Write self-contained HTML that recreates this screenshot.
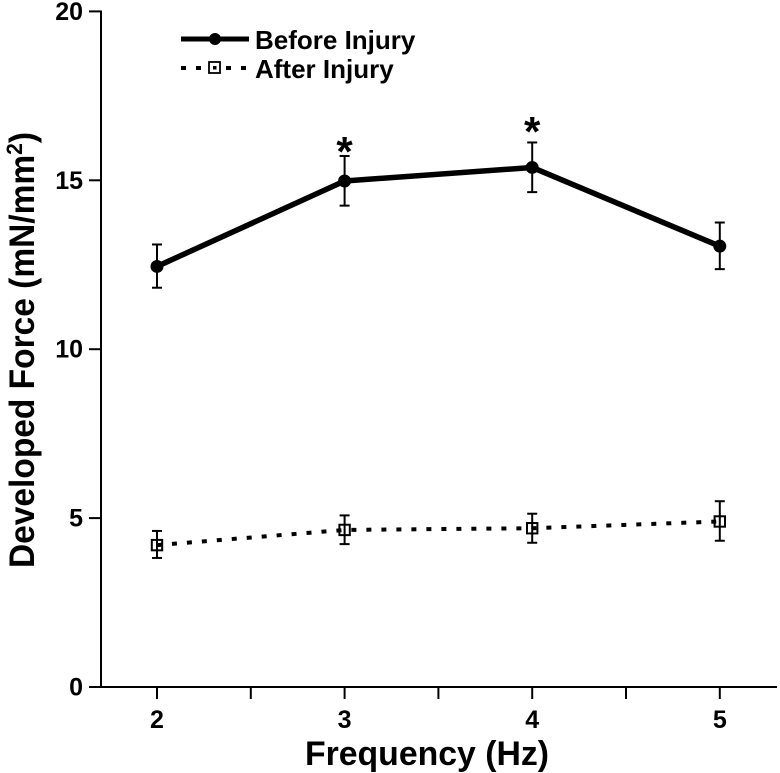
<!DOCTYPE html>
<html>
<head>
<meta charset="utf-8">
<style>
html,body{margin:0;padding:0;background:#fff;width:780px;height:773px;overflow:hidden}
svg{display:block}
text{font-family:"Liberation Sans",sans-serif;font-weight:700;fill:#000}
</style>
</head>
<body>
<svg id="chart" width="780" height="773" viewBox="0 0 780 773"></svg>
<script>
const frequencies = [2, 3, 4, 5];
const beforeValues = [12.45, 14.98, 15.38, 13.05];
const beforeUpper = [13.1, 15.72, 16.12, 13.75];
const beforeLower = [11.82, 14.25, 14.65, 12.37];
const afterValues = [4.2, 4.65, 4.7, 4.9];
const afterUpper = [4.62, 5.08, 5.13, 5.5];
const afterLower = [3.82, 4.23, 4.27, 4.33];
const yTicks = [0, 5, 10, 15, 20];
const xMajorTicks = [2, 3, 4, 5];
const xMinorTicks = [2.5, 3.5, 4.5];
const significant = [3, 4];
const starLevels = [15.42, 16.02];

const svg = document.getElementById('chart');
const NS = 'http://www.w3.org/2000/svg';
function xScale(v){ return 157 + (v - 2) * 187.6; }
function yScale(v){ return 687 - v * 33.78; }
function make(tag, attrs, parent){
  const el = document.createElementNS(NS, tag);
  for (const k in attrs) el.setAttribute(k, attrs[k]);
  (parent || svg).appendChild(el);
  return el;
}
function line(x1, y1, x2, y2, w, parent){
  return make('line', {x1, y1, x2, y2, stroke:'#000', 'stroke-width':w}, parent);
}

/* axes */
const yAxis = line(101, 10.5, 101, 688, 2);


const xAxis = line(89, 687, 777, 687, 2);



yTicks.forEach(function(t){
  const y = yScale(t);
  const tick = line(89, y, 101, y, 2);
  
  
  const lab = make('text', {x:83, y:y + 8.5, 'text-anchor':'end', 'font-size':25});
  lab.textContent = t;
  
  
});
xMajorTicks.forEach(function(t){
  const x = xScale(t);
  const tick = line(x, 687, x, 699, 2);
  
  
  const lab = make('text', {x:x, y:728, 'text-anchor':'middle', 'font-size':25});
  lab.textContent = t;
  
  
});
xMinorTicks.forEach(function(t){
  const x = xScale(t);
  const tick = line(x, 687, x, 699, 2);
  
  
});

/* error bars */
function errorBars(values, upper, lower, name){
  frequencies.forEach(function(f, i){
    const x = xScale(f);
    const g = make('g', {});
    
    
    line(x, yScale(upper[i]), x, yScale(lower[i]), 2, g);
    line(x - 5, yScale(upper[i]), x + 5, yScale(upper[i]), 2, g);
    line(x - 5, yScale(lower[i]), x + 5, yScale(lower[i]), 2, g);
  });
}
errorBars(afterValues, afterUpper, afterLower, 'after-injury-error-bar');
errorBars(beforeValues, beforeUpper, beforeLower, 'before-injury-error-bar');

/* series lines */
function pointsOf(values){
  return frequencies.map(function(f, i){ return xScale(f) + ',' + yScale(values[i]); }).join(' ');
}
const beforeLine = make('polyline', {points:pointsOf(beforeValues), fill:'none', stroke:'#000', 'stroke-width':5.5, 'stroke-linejoin':'round'});


const afterLine = make('polyline', {points:pointsOf(afterValues), fill:'none', stroke:'#000', 'stroke-width':4, 'stroke-dasharray':'5 10'});



/* markers */
frequencies.forEach(function(f, i){
  const c = make('circle', {cx:xScale(f), cy:yScale(beforeValues[i]), r:6.5, fill:'#000'});
  
  
  const r = make('rect', {x:xScale(f) - 5.2, y:yScale(afterValues[i]) - 5.2, width:10.4, height:10.4, fill:'none', stroke:'#000', 'stroke-width':2});
  
  
});

/* significance stars */
significant.forEach(function(f, i){
  const s = make('text', {x:xScale(f), y:yScale(starLevels[i]), 'text-anchor':'middle', 'font-size':42});
  s.textContent = '*';
  
  
});

/* axis titles */
const xTitle = make('text', {x:427, y:765, 'text-anchor':'middle', 'font-size':33.8});
xTitle.textContent = 'Frequency (Hz)';



const yTitle = make('text', {transform:'translate(34,350) rotate(-90) scale(0.957,1)', 'text-anchor':'middle', 'font-size':35});


const t1 = make('tspan', {}, yTitle);
t1.textContent = 'Developed Force (mN/mm';
const t2 = make('tspan', {dy:-12, 'font-size':22}, yTitle);
t2.textContent = '2';
const t3 = make('tspan', {dy:12}, yTitle);
t3.textContent = ')';

/* legend */
const legend = make('g', {});


line(181, 39, 249, 39, 5, legend);
make('circle', {cx:215, cy:39, r:6, fill:'#000'}, legend);
const legBefore = make('text', {x:255, y:49, 'font-size':26}, legend);
legBefore.textContent = 'Before Injury';


make('line', {x1:181, y1:68, x2:249, y2:68, stroke:'#000', 'stroke-width':4, 'stroke-dasharray':'5 10'}, legend);
make('rect', {x:209, y:62, width:11, height:11, fill:'#fff', stroke:'#000', 'stroke-width':1.8}, legend);
make('rect', {x:213, y:66, width:3.5, height:3.5, fill:'#000'}, legend);
const legAfter = make('text', {x:255, y:78, 'font-size':26}, legend);
legAfter.textContent = 'After Injury';


</script>
</body>
</html>
